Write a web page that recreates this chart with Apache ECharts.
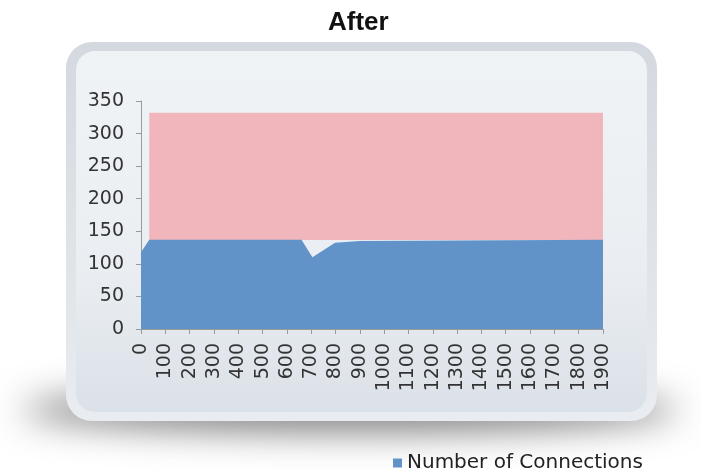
<!DOCTYPE html>
<html>
<head>
<meta charset="utf-8">
<script src="https://cdn.jsdelivr.net/npm/echarts@6/dist/echarts.min.js"></script>
<style>html,body{margin:0;padding:0;background:#fff}#c{width:701px;height:470px}</style>
</head>
<body>
<div id="c"></div>
<script>
const titleText = 'After';
const seriesName = 'Number of Connections';
const xTicks = [0,100,200,300,400,500,600,700,800,900,1000,1100,1200,1300,1400,1500,1600,1700,1800,1900];
const yTicks = [0,50,100,150,200,250,300,350];
// blue area: [x, connections]
const connX = [0, 34, 660, 705, 798, 900, 901, 1900];
const connY = [118, 137, 137, 110, 132.5, 135, 137, 137];
// pink band: [x, top], bottom at pinkBase
const bandX = [34, 1900];
const bandY = [332, 332];
const pinkBase = 136.5;

const chart = echarts.init(document.getElementById('c'));
const font = 'DejaVu Sans';
chart.setOption({
  backgroundColor: '#ffffff',
  animation: false,
  title: {
    text: titleText, left: 323, top: 5,
    textStyle: { fontFamily: 'Liberation Sans', fontWeight: 'bold', fontSize: 26, color: '#111' }
  },
  graphic: [
    { type: 'ellipse', z: -3, silent: true,
      shape: { cx: 350, cy: 410 - 1000, rx: 328, ry: 22 },
      style: { fill: '#000', shadowColor: 'rgba(60,60,60,0.65)', shadowBlur: 35, shadowOffsetY: 1000 } },
    { type: 'rect', z: -2, silent: true,
      shape: { x: 66, y: 42, width: 591, height: 379, r: 26 },
      style: { fill: new echarts.graphic.LinearGradient(0,0,0,1,[{offset:0,color:'#d3d9df'},{offset:1,color:'#e9ecf0'}]) } },
    { type: 'rect', z: -1, silent: true,
      shape: { x: 76, y: 51, width: 571, height: 361, r: 19 },
      style: { fill: new echarts.graphic.LinearGradient(0,0,0,1,[{offset:0,color:'#f0f3f6'},{offset:0.6,color:'#eaeef2'},{offset:1,color:'#dbe1e8'}]) } }
  ],
  legend: {
    data: [seriesName], left: 388, top: 448, icon: 'rect', itemWidth: 9, itemHeight: 9, itemGap: 4,
    textStyle: { fontFamily: font, fontSize: 20, color: '#222' }
  },
  grid: { left: 141, right: 98, top: 101, bottom: 141 },
  xAxis: {
    type: 'value', min: xTicks[0], max: xTicks[xTicks.length-1], interval: 100,
    splitLine: { show: false },
    axisLine: { show: true, lineStyle: { color: '#9a9a9a' } },
    axisTick: { show: true, length: 5, lineStyle: { color: '#9a9a9a' } },
    axisLabel: { rotate: 90, margin: 14, fontFamily: font, fontSize: 19, color: '#333',
      formatter: v => String(v) }
  },
  yAxis: {
    type: 'value', min: yTicks[0], max: yTicks[yTicks.length-1], interval: 50,
    splitLine: { show: false },
    axisLine: { show: true, lineStyle: { color: '#9a9a9a' } },
    axisTick: { show: true, length: 5, lineStyle: { color: '#9a9a9a' } },
    axisLabel: { margin: 17, fontFamily: font, fontSize: 19, color: '#333' }
  },
  series: [
    { name: 'band', type: 'line', symbol: 'none', z: 1,
      data: bandX.map((x,i) => [x, bandY[i]]),
      lineStyle: { width: 0 },
      areaStyle: { color: '#f0b6bc', opacity: 1, origin: pinkBase } },
    { name: seriesName, type: 'line', symbol: 'none', z: 2, color: '#6193c9',
      data: connX.map((x,i) => [x, connY[i]]),
      lineStyle: { width: 0 },
      areaStyle: { color: '#6193c9', opacity: 1 } }
  ]
});
</script>
</body>
</html>
